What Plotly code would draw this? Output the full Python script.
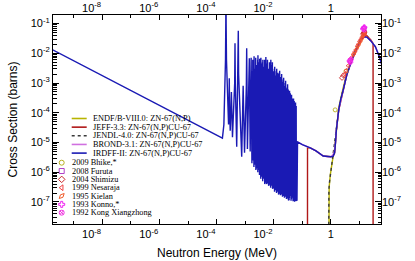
import plotly.graph_objects as go

# ---------------- Evaluated cross sections (MeV, barns) ----------------
# IRDFF-II: 1/v region and first isolated resonances
irdff_low_E = [1e-10, 1.6e-4, 1.8e-4, 1.95e-4, 2.05e-4, 2.1e-4, 2.13e-4, 2.16e-4, 2.22e-4, 2.35e-4, 2.5e-4,
               2.62e-4, 2.72e-4, 2.78e-4, 2.84e-4, 3.0e-4, 3.3e-4, 3.6e-4, 4.3e-4, 4.41e-4, 4.52e-4, 5.06e-4,
               5.6e-4, 5.75e-4, 5.9e-4, 7.57e-4, 8.5e-4, 9.5e-4, 1.1e-3, 1.13e-3, 1.16e-3, 1.2e-3, 1.37e-3,
               1.4e-3, 1.43e-3, 1.5e-3]
irdff_low_xs = [0.0178, 1.41e-5, 4e-5, 4e-4, 6e-3, 0.1, 3.0, 0.1, 6e-3, 4e-4, 8e-5,
                4e-5, 1.5e-4, 1.45e-3, 1.5e-4, 2.5e-5, 5e-4, 1.5e-5, 1e-3, 0.0216, 1e-3, 7.2e-6,
                2e-3, 0.057, 2e-3, 3.3e-6, 8e-4, 4.5e-6, 8e-4, 0.0147, 8e-4, 6e-6, 5e-4,
                6.8e-3, 5e-4, 5e-6]

# IRDFF-II: dense resolved-resonance forest (peaks and valleys)
res_peak_E = [1.62e-3, 1.75e-3, 1.9e-3, 2.05e-3, 2.2e-3, 2.4e-3, 2.6e-3, 2.8e-3, 3.05e-3, 3.3e-3,
              3.55e-3, 3.85e-3, 4.15e-3, 4.5e-3, 4.9e-3, 5.3e-3, 5.7e-3, 6.2e-3, 6.7e-3, 7.3e-3,
              7.9e-3, 8.5e-3, 9.2e-3, 0.01, 0.0108, 0.0117, 0.0127, 0.0137, 0.0149, 0.0161,
              0.0175, 0.0189, 0.0205, 0.0222, 0.024, 0.026, 0.0282, 0.0305, 0.033, 0.0358,
              0.0388, 0.042, 0.0455, 0.0493, 0.0534, 0.0578, 0.0626]
res_peak_xs = [7e-3, 2.5e-3, 5.5e-3, 8e-3, 3e-3, 6.5e-3, 4e-3, 8.5e-3, 5e-3, 2.2e-3,
               7e-3, 4.5e-3, 6e-3, 3e-3, 5.5e-3, 7.5e-3, 3.5e-3, 5e-3, 2.5e-3, 4.5e-3,
               6e-3, 3e-3, 4e-3, 2.5e-3, 3.5e-3, 1.8e-3, 3e-3, 2.2e-3, 1.4e-3, 2.6e-3,
               1.6e-3, 2e-3, 1.1e-3, 1.5e-3, 8e-4, 1.2e-3, 6.5e-4, 9e-4, 4.5e-4, 5.5e-4,
               3.5e-4, 4e-4, 2.5e-4, 3e-4, 1.8e-4, 2.2e-4, 1.25e-4]
res_valley_E = [1.68e-3, 1.82e-3, 1.97e-3, 2.12e-3, 2.3e-3, 2.5e-3, 2.7e-3, 2.92e-3, 3.17e-3, 3.42e-3,
                3.7e-3, 4.0e-3, 4.32e-3, 4.7e-3, 5.1e-3, 5.5e-3, 5.95e-3, 6.45e-3, 7.0e-3, 7.6e-3,
                8.2e-3, 8.85e-3, 9.6e-3, 0.0104, 0.0112, 0.0122, 0.0132, 0.0143, 0.0155, 0.0168,
                0.0182, 0.0197, 0.0213, 0.0231, 0.025, 0.0271, 0.0293, 0.0317, 0.0344, 0.0373,
                0.0404, 0.0437, 0.0474, 0.0513, 0.0556, 0.0602, 0.065]
res_valley_xs = [3.5e-6, 2.5e-6, 4e-6, 1.8e-6, 3e-6, 1.5e-6, 2.2e-6, 1.2e-6, 8e-7, 1.5e-6,
                 7e-7, 1.1e-6, 6e-7, 9e-7, 5e-7, 8e-7, 4.5e-7, 7e-7, 4e-7, 6e-7,
                 3.5e-7, 5e-7, 3e-7, 4.5e-7, 2.5e-7, 3.5e-7, 2.2e-7, 3e-7, 2e-7, 2.8e-7,
                 1.8e-7, 2.5e-7, 1.6e-7, 2.2e-7, 1.5e-7, 2e-7, 1.3e-7, 1.8e-7, 1.2e-7, 1.6e-7,
                 1.1e-7, 1.4e-7, 1.05e-7, 1.3e-7, 1.1e-7, 1.2e-7, 1.15e-7]
# further (smaller) resonances inside the forest
res2_peak_E = [1.70e-3, 1.845e-3, 2.0e-3, 2.15e-3, 2.335e-3, 2.535e-3, 2.735e-3, 2.96e-3, 3.21e-3, 3.465e-3,
               3.75e-3, 4.05e-3, 4.38e-3, 4.77e-3, 5.17e-3, 5.57e-3, 6.03e-3, 6.53e-3, 7.1e-3, 7.7e-3,
               8.3e-3, 8.97e-3, 9.73e-3, 0.01053, 0.01137, 0.01237, 0.01337, 0.0145, 0.0157, 0.01703,
               0.01843, 0.01997, 0.0216, 0.0234, 0.02533, 0.02747, 0.0297, 0.03213, 0.03487, 0.0378,
               0.04093, 0.0443, 0.04803, 0.052, 0.05633, 0.061]
res2_peak_xs = [4e-3, 6e-3, 2e-3, 5e-3, 7e-3, 2.5e-3, 6e-3, 3e-3, 6.5e-3, 4e-3,
                2.5e-3, 5e-3, 3.5e-3, 6e-3, 2.5e-3, 4.5e-3, 6e-3, 3e-3, 5e-3, 2e-3,
                4e-3, 5e-3, 2e-3, 3e-3, 1.5e-3, 2.5e-3, 1.2e-3, 2e-3, 2.2e-3, 1e-3,
                1.5e-3, 9e-4, 1.3e-3, 7e-4, 1e-3, 5e-4, 7e-4, 6e-4, 3e-4, 4.5e-4,
                2.5e-4, 3e-4, 2e-4, 2.5e-4, 1.5e-4, 1.7e-4]
res2_valley_E = [1.725e-3, 1.87e-3, 2.025e-3, 2.175e-3, 2.365e-3, 2.565e-3, 2.77e-3, 3.0e-3, 3.25e-3, 3.51e-3,
                 3.8e-3, 4.1e-3, 4.44e-3, 4.83e-3, 5.23e-3, 5.63e-3, 6.12e-3, 6.62e-3, 7.2e-3, 7.8e-3,
                 8.4e-3, 9.09e-3, 9.87e-3, 0.01067, 0.01153, 0.01253, 0.01353, 0.0147, 0.0159, 0.01727,
                 0.01867, 0.02023, 0.0219, 0.0237, 0.02567, 0.02783, 0.0301, 0.03257, 0.03533, 0.0383,
                 0.04147, 0.0449, 0.04867, 0.0527, 0.05707, 0.0618]
res2_valley_xs = [2e-6, 3e-6, 1.5e-6, 2.5e-6, 1.2e-6, 2e-6, 1e-6, 1.8e-6, 1e-6, 6e-7,
                  1.2e-6, 5e-7, 9e-7, 4e-7, 7e-7, 4e-7, 6e-7, 3.5e-7, 5.5e-7, 3e-7,
                  4.5e-7, 2.8e-7, 4e-7, 2.2e-7, 3e-7, 2e-7, 2.6e-7, 1.8e-7, 2.4e-7, 1.7e-7,
                  2.2e-7, 1.5e-7, 1.9e-7, 1.4e-7, 1.7e-7, 1.25e-7, 1.5e-7, 1.15e-7, 1.35e-7, 1.1e-7,
                  1.25e-7, 1.05e-7, 1.2e-7, 1.05e-7, 1.1e-7, 1.1e-7]

# IRDFF-II: fast-neutron region
irdff_fast_E = [0.068, 0.1, 0.19, 0.3, 0.54, 0.8, 1.0, 1.2, 1.35, 1.45, 1.55, 1.88, 2.2, 2.7, 3.6,
                5.4, 8.1, 11.0, 15.0, 18.0, 25.0, 36.0, 50.0, 60.0]
irdff_fast_xs = [1.05e-5, 8.5e-6, 6.6e-6, 5.2e-6, 3.5e-6, 3.3e-6, 3.3e-6, 3.5e-6, 4.5e-6, 1.0e-5,
                 2.6e-5, 1.24e-4, 2.8e-4, 5.8e-4, 1.86e-3, 5.9e-3, 0.0147, 0.028, 0.036, 0.035,
                 0.026, 0.0166, 7.5e-3, 4.2e-3]

# JEFF-3.3
jeff_E = [0.151, 0.152, 0.19, 0.3, 0.54, 0.8, 1.0, 1.2, 1.35, 1.45, 1.55, 1.88, 2.7, 3.6, 5.4,
          8.1, 11.0, 15.0, 18.0, 25.0, 29.9, 30.0]
jeff_xs = [1e-12, 6.6e-6, 6.6e-6, 5.2e-6, 3.5e-6, 3.3e-6, 3.3e-6, 3.5e-6, 4.5e-6, 1.0e-5, 2.6e-5,
           1.24e-4, 6e-4, 1.9e-3, 6.0e-3, 0.0155, 0.031, 0.04, 0.039, 0.028, 0.0215, 1e-12]

# ENDF/B-VIII.0
endf_E = [0.82, 0.825, 0.84, 0.87, 0.95, 1.08, 1.2, 1.34, 1.45, 1.55, 1.88, 2.7, 3.6, 5.4, 8.1,
          11.0, 15.0, 18.0, 20.0]
endf_xs = [1e-12, 2e-8, 1.5e-7, 3.2e-7, 8e-7, 2e-6, 3.5e-6, 5.6e-6, 1.2e-5, 3e-5, 1.5e-4, 7e-4,
           2.1e-3, 6.2e-3, 0.0155, 0.03, 0.039, 0.038, 0.035]

# JENDL-4.0
jendl_E = [0.82, 0.826, 0.85, 0.9, 1.0, 1.1, 1.25, 1.4, 1.55, 1.88, 2.7, 3.6, 5.4, 8.1, 11.0, 15.0, 20.0]
jendl_xs = [1e-12, 5e-8, 2.5e-7, 5e-7, 1.1e-6, 2.2e-6, 4.5e-6, 9e-6, 2.8e-5, 1.4e-4, 6.6e-4,
            2.0e-3, 6.1e-3, 0.0152, 0.03, 0.038, 0.034]

# BROND-3.1
brond_E = [0.068, 0.1, 0.19, 0.3, 0.54, 0.8, 1.0, 1.15, 1.3, 1.45, 1.55, 1.88, 2.7, 3.6, 5.4,
           8.1, 11.0, 15.0, 18.0, 25.0, 36.0, 50.0, 60.0]
brond_xs = [1.05e-5, 8.5e-6, 6.6e-6, 5.2e-6, 3.5e-6, 3.3e-6, 3.4e-6, 3.8e-6, 4.6e-6, 1.0e-5,
            2.6e-5, 1.24e-4, 5.8e-4, 1.86e-3, 5.9e-3, 0.0147, 0.028, 0.036, 0.035, 0.026,
            0.0166, 7.5e-3, 4.2e-3]

# ---------------- Experimental data (EXFOR) ----------------
bhike_E, bhike_xs = [1.41, 3.36], [1.25e-4, 2.5e-3]
furuta_E, furuta_xs = [14.8], [0.052]
shimizu_E, shimizu_xs = [2.45, 2.75, 13.4, 14.0, 14.6, 14.9], [1.5e-3, 1.8e-3, 0.044, 0.047, 0.05, 0.052]
nesaraja_E = [3.0, 3.4, 4.0, 4.6, 5.3, 6.0, 6.7, 7.4, 8.2, 9.0, 10.0, 11.0, 12.0, 13.0, 14.0, 15.0, 16.0]
nesaraja_xs = [2.0e-3, 2.6e-3, 3.8e-3, 5.2e-3, 7.2e-3, 9.2e-3, 0.011, 0.013, 0.017, 0.02, 0.025,
               0.029, 0.034, 0.038, 0.043, 0.047, 0.045]
kielan_E, kielan_xs = [6.5, 8.0, 9.5, 11.0, 12.5, 14.0], [9.5e-3, 0.014, 0.019, 0.025, 0.032, 0.042]
konno_E = [4.5, 4.8, 5.0, 13.4, 14.1, 14.6, 14.8]
konno_xs = [5.5e-3, 5.0e-3, 6.2e-3, 0.066, 0.07, 0.072, 0.075]
kong_E, kong_xs = [4.6, 14.7], [5.8e-3, 0.06]

# ---------------- Labels ----------------
PAD = "\u00a0" * 7   # the reference draws power-of-ten labels just left of their tick
x_tick_vals = [1e-8, 1e-6, 1e-4, 1e-2, 1]
x_tick_text = ["10<sup>-8</sup>" + PAD, "10<sup>-6</sup>" + PAD, "10<sup>-4</sup>" + PAD,
               "10<sup>-2</sup>" + PAD, "1"]
x_minor_vals = [1e-9, 1e-7, 1e-5, 1e-3, 0.1, 10]
y_tick_vals = [1e-7, 1e-6, 1e-5, 1e-4, 1e-3, 1e-2, 1e-1]
y_tick_text = ["10<sup>-7</sup>", "10<sup>-6</sup>", "10<sup>-5</sup>", "10<sup>-4</sup>",
               "10<sup>-3</sup>", "10<sup>-2</sup>", "10<sup>-1</sup>"]
eval_names = ["ENDF/B-VIII.0: ZN-67(N,P)", "JEFF-3.3: ZN-67(N,P)CU-67", "JENDL-4.0: ZN-67(N,P)CU-67",
              "BROND-3.1: ZN-67(N,P)CU-67", "IRDFF-II: ZN-67(N,P)CU-67"]
exp_names = ["2009 Bhike,*", "2008 Furuta", "2004 Shimizu", "1999 Nesaraja", "1995 Kielan",
             "1993 Konno,*", "1992 Kong Xiangzhong"]

# ---------------- Styles ----------------
eval_colors = ["#b8b400", "#b01818", "#3a3a3a", "#d070e0", "#1a1ab4"]
eval_dash = ["solid", "solid", "dot", "solid", "solid"]
exp_colors = ["#b8b020", "#b040c8", "#c82828", "#f04040", "#f05a28", "#f020f0", "#f030e0"]
exp_symbols = ["circle-open", "square-open", "diamond-open", "triangle-left-open",
               "diamond-tall-open", "cross-open", "circle-x-open"]
exp_angles = [0, 0, 0, 0, 45, 0, 0]

# build the IRDFF-II curve (ordered points)
forest = sorted(zip(res_peak_E + res_valley_E + res2_peak_E + res2_valley_E,
                    res_peak_xs + res_valley_xs + res2_peak_xs + res2_valley_xs))
irdff_E = irdff_low_E + [p[0] for p in forest] + irdff_fast_E
irdff_xs = irdff_low_xs + [p[1] for p in forest] + irdff_fast_xs

eval_data = [(endf_E, endf_xs), (jeff_E, jeff_xs), (jendl_E, jendl_xs),
             (brond_E, brond_xs), (irdff_E, irdff_xs)]
exp_data = [(bhike_E, bhike_xs), (furuta_E, furuta_xs), (shimizu_E, shimizu_xs),
            (nesaraja_E, nesaraja_xs), (kielan_E, kielan_xs), (konno_E, konno_xs), (kong_E, kong_xs)]

fig = go.Figure()
for i, (E, xs) in enumerate(eval_data):
    fig.add_trace(go.Scatter(x=E, y=xs, mode="lines", name=eval_names[i],
                             line=dict(color=eval_colors[i], width=1.4, dash=eval_dash[i]),
                             showlegend=False, hoverinfo="skip"))
for i, (E, xs) in enumerate(exp_data):
    fig.add_trace(go.Scatter(x=E, y=xs, mode="markers", name=exp_names[i],
                             marker=dict(symbol=exp_symbols[i], color=exp_colors[i], size=4,
                                         angle=exp_angles[i], line=dict(width=0.9, color=exp_colors[i])),
                             showlegend=False, hoverinfo="skip"))

# dummy trace so the mirrored label axes are drawn
fig.add_trace(go.Scatter(x=[], y=[], xaxis="x2", yaxis="y2", showlegend=False))

# ---------------- Hand-drawn legend (pixel helper axes) ----------------
L, R, T, B = 53, 381, 15, 224
line_y = [118.5 + 8.65 * i for i in range(len(eval_names))]
mark_y = [162.7 + 8.33 * j for j in range(len(exp_names))]
legend_font = dict(family="Liberation Serif, Times New Roman, serif", size=8.3, color="black")
shapes = []
annotations = []
for i, nm in enumerate(eval_names):
    shapes.append(dict(type="line", xref="x3", yref="y3", x0=71.7, x1=86.7, y0=line_y[i], y1=line_y[i],
                       line=dict(color=eval_colors[i], width=1.6, dash=eval_dash[i])))
    annotations.append(dict(xref="x3", yref="y3", x=90.7, y=line_y[i], text=nm, showarrow=False,
                            xanchor="left", yanchor="middle", font=legend_font))
for j, nm in enumerate(exp_names):
    fig.add_trace(go.Scatter(x=[61.7], y=[mark_y[j]], xaxis="x3", yaxis="y3", mode="markers",
                             marker=dict(symbol=exp_symbols[j], color=exp_colors[j], size=5,
                                         angle=exp_angles[j], line=dict(width=1, color=exp_colors[j])),
                             showlegend=False, hoverinfo="skip"))
    annotations.append(dict(xref="x3", yref="y3", x=69.5, y=mark_y[j], text=nm, showarrow=False,
                            xanchor="left", yanchor="middle", font=legend_font))

tick_font = dict(family="Liberation Sans, Arial, sans-serif", size=11, color="black")
y_minor_vals = [m * 10.0 ** d for d in range(-8, 0) for m in range(2, 10)]

xcommon = dict(type="log", range=[-9.724, 1.753], autorange=False, automargin=False, tickmode="array",
               tickvals=x_tick_vals, ticktext=x_tick_text, ticks="inside", ticklen=5, tickwidth=1,
               tickcolor="black", tickfont=tick_font, showgrid=False, zeroline=False,
               minor=dict(tickmode="array", tickvals=x_minor_vals, ticks="inside", ticklen=3,
                          tickcolor="black", showgrid=False))
ycommon = dict(type="log", range=[-7.74, -0.714], autorange=False, automargin=False, tickmode="array",
               tickvals=y_tick_vals, ticktext=y_tick_text, ticks="inside", ticklen=6, tickwidth=1,
               tickcolor="black", tickfont=tick_font, showgrid=False, zeroline=False,
               minor=dict(tickmode="array", tickvals=y_minor_vals, ticks="inside", ticklen=3.5,
                          tickcolor="black", showgrid=False))

fig.update_layout(
    width=415, height=261, autosize=False,
    margin=dict(l=L, r=415 - R, t=T, b=261 - B, pad=0, autoexpand=False),
    paper_bgcolor="white", plot_bgcolor="white",
    showlegend=False,
    xaxis=dict(**xcommon, showline=True, linecolor="black", linewidth=1, mirror=True,
               title=dict(text="Neutron Energy (MeV)",
                          font=dict(family="Liberation Sans, Arial, sans-serif", size=12, color="black"),
                          standoff=9)),
    yaxis=dict(**ycommon, showline=True, linecolor="black", linewidth=1, mirror=True,
               title=dict(text="Cross Section (barns)",
                          font=dict(family="Liberation Sans, Arial, sans-serif", size=12, color="black"),
                          standoff=10)),
    xaxis2=dict(**xcommon, overlaying="x", side="top", anchor="y", showline=False),
    yaxis2=dict(**ycommon, overlaying="y", side="right", anchor="x", showline=False),
    xaxis3=dict(range=[L, R], overlaying="x", visible=False, anchor="y3", autorange=False),
    yaxis3=dict(range=[B, T], overlaying="y", visible=False, anchor="x3", autorange=False),
    shapes=shapes,
    annotations=annotations,
)

fig.write_html("out.html", config={"displayModeBar": False},
               post_script="document.body.style.margin='0';document.body.style.overflow='hidden';")
